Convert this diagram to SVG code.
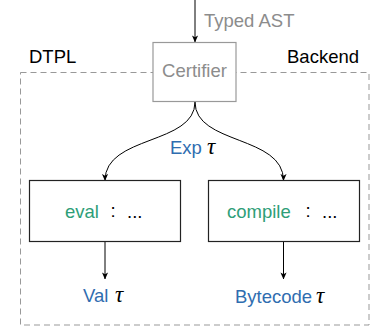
<svg xmlns="http://www.w3.org/2000/svg" width="375" height="326" viewBox="0 0 375 326">
<style>
text{font-family:"Liberation Sans",Arial,sans-serif;font-size:18.5px}
.gray{fill:#8c8c8c}
.blue{fill:#2f6db0}
.green{fill:#2e9e78}
.blk{fill:#000}
.tau{font-family:"Liberation Serif","Times New Roman",serif;font-style:italic;font-size:23px;fill:#000}
.box{fill:#fff;stroke:#222;stroke-width:1.2}
.edge{fill:none;stroke:#000;stroke-width:1}
</style>
<defs>
<marker id="ah" viewBox="0 0 8 8" refX="7.5" refY="4" markerWidth="7" markerHeight="7" markerUnits="userSpaceOnUse" orient="auto">
<path d="M0,0.5 L8,4 L0,7.5 L2,4 Z" fill="#000"/>
</marker>
</defs>
<g id="frame">
<rect x="20.5" y="72.5" width="348.5" height="252.5" fill="none" stroke="#999" stroke-width="1" stroke-dasharray="6,4"/>
<text x="29" y="63" class="blk">DTPL</text>
<text x="287" y="63" class="blk">Backend</text>
</g>
<g id="connectors">
<path class="edge" d="M195,0 L195,42" marker-end="url(#ah)"/>
<path class="edge" d="M195,102 C195,145 105,135 105,180.5" marker-end="url(#ah)"/>
<path class="edge" d="M195,102 C195,145 283.5,135 283.5,180.5" marker-end="url(#ah)"/>
<path class="edge" d="M105,242 L105,279" marker-end="url(#ah)" stroke="#444"/>
<path class="edge" d="M283.5,242 L283.5,279" marker-end="url(#ah)" stroke="#444"/>
</g>
<g id="typed-ast-label">
<text x="204" y="27" class="gray">Typed AST</text>
</g>
<g id="certifier">
<rect x="153" y="42.5" width="83" height="59" fill="#fff" stroke="#999" stroke-width="1.2"/>
<text x="194.5" y="77" text-anchor="middle" class="gray">Certifier</text>
</g>
<g id="exp-label">
<text x="170" y="154" class="blue">Exp</text>
<text x="207" y="154" class="tau">τ</text>
</g>
<g id="eval">
<rect x="29.5" y="180.5" width="151" height="61" class="box"/>
<text x="65" y="218" class="green">eval</text>
<text x="113" y="217" text-anchor="middle" class="blk">:</text>
<text x="127" y="218" class="blk">...</text>
</g>
<g id="compile">
<rect x="208.5" y="180.5" width="151" height="61" class="box"/>
<text x="227" y="218" class="green">compile</text>
<text x="308" y="217" text-anchor="middle" class="blk">:</text>
<text x="322" y="218" class="blk">...</text>
</g>
<g id="val">
<text x="83" y="302" class="blue">Val</text>
<text x="115" y="302" class="tau">τ</text>
</g>
<g id="bytecode">
<text x="235" y="303" class="blue">Bytecode</text>
<text x="316" y="303" class="tau">τ</text>
</g>
</svg>
